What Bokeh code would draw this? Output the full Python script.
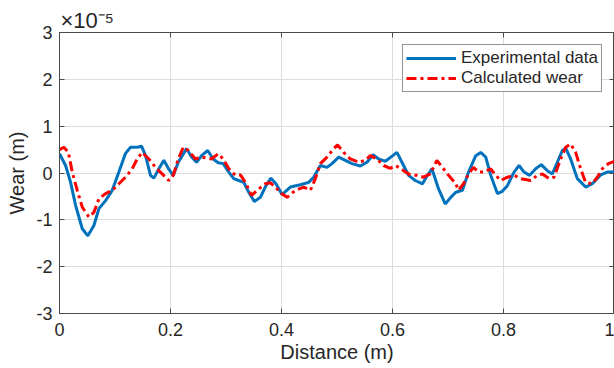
from bokeh.plotting import figure
from bokeh.models import Range1d, LinearAxis, FixedTicker, Legend, LegendItem
from bokeh.embed import file_html
from bokeh.resources import INLINE

# Values in units of 1e-5 m
exp_x = [0.0, 0.011, 0.02, 0.029, 0.041, 0.051, 0.062, 0.071, 0.083, 0.095, 0.107, 0.119, 0.128, 0.14, 0.148,
         0.155, 0.164, 0.17, 0.179, 0.188, 0.196, 0.205, 0.214, 0.229, 0.238, 0.247, 0.256, 0.267, 0.277, 0.286,
         0.295, 0.305, 0.314, 0.323, 0.332, 0.341, 0.351, 0.362, 0.372, 0.381, 0.39, 0.401, 0.416, 0.434, 0.449,
         0.458, 0.47, 0.482, 0.491, 0.503, 0.515, 0.527, 0.542, 0.554, 0.565, 0.575, 0.587, 0.597, 0.608, 0.617,
         0.629, 0.641, 0.654, 0.663, 0.671, 0.683, 0.695, 0.705, 0.714, 0.726, 0.737, 0.75, 0.759, 0.768, 0.777,
         0.789, 0.797, 0.807, 0.819, 0.828, 0.837, 0.847, 0.858, 0.868, 0.879, 0.888, 0.897, 0.906, 0.912, 0.921,
         0.933, 0.948, 0.96, 0.975, 0.987, 1.0]
exp_y = [0.41, 0.16, -0.2, -0.69, -1.19, -1.34, -1.12, -0.76, -0.59, -0.37, 0.02, 0.42, 0.55, 0.55, 0.57,
         0.37, -0.05, -0.11, 0.09, 0.27, 0.1, -0.05, 0.23, 0.52, 0.34, 0.23, 0.37, 0.48, 0.30, 0.22,
         0.20, 0.02, -0.12, -0.16, -0.2, -0.41, -0.61, -0.52, -0.27, -0.11, -0.23, -0.46, -0.30, -0.25, -0.20,
         -0.09, 0.16, 0.12, 0.2, 0.34, 0.27, 0.2, 0.15, 0.23, 0.39, 0.30, 0.25, 0.34, 0.44, 0.23,
         -0.05, -0.16, -0.23, -0.05, 0.09, -0.34, -0.66, -0.52, -0.41, -0.37, 0.02, 0.37, 0.44, 0.34, -0.05,
         -0.44, -0.40, -0.27, 0.02, 0.16, 0.02, -0.05, 0.09, 0.18, 0.05, -0.02, 0.23, 0.48, 0.53, 0.30,
         -0.12, -0.30, -0.23, -0.04, 0.02, 0.02]

calc_x = [0.0, 0.008, 0.016, 0.023, 0.032, 0.041, 0.053, 0.062, 0.071, 0.083, 0.095, 0.107, 0.119, 0.131, 0.14,
          0.149, 0.161, 0.173, 0.185, 0.197, 0.205, 0.214, 0.223, 0.232, 0.245, 0.256, 0.274, 0.286, 0.295, 0.305,
          0.317, 0.326, 0.335, 0.346, 0.359, 0.371, 0.38, 0.389, 0.4, 0.41, 0.425, 0.44, 0.452, 0.461, 0.47,
          0.482, 0.494, 0.501, 0.512, 0.524, 0.539, 0.551, 0.56, 0.572, 0.584, 0.596, 0.606, 0.62, 0.632, 0.644,
          0.656, 0.668, 0.68, 0.69, 0.701, 0.714, 0.719, 0.728, 0.737, 0.746, 0.755, 0.764, 0.777, 0.786, 0.795,
          0.807, 0.819, 0.831, 0.849, 0.861, 0.87, 0.882, 0.891, 0.903, 0.912, 0.921, 0.93, 0.939, 0.948, 0.96,
          0.969, 0.978, 0.989, 1.0]
calc_y = [0.5, 0.55, 0.44, 0.02, -0.37, -0.73, -0.94, -0.84, -0.55, -0.44, -0.37, -0.23, -0.09, 0.09, 0.30,
          0.44, 0.30, 0.12, -0.02, -0.16, -0.05, 0.30, 0.55, 0.48, 0.30, 0.34, 0.30, 0.41, 0.30, 0.09,
          -0.05, -0.04, -0.2, -0.48, -0.34, -0.23, -0.21, -0.30, -0.44, -0.52, -0.37, -0.30, -0.37, -0.12, 0.2,
          0.34, 0.52, 0.6, 0.44, 0.30, 0.23, 0.27, 0.37, 0.30, 0.16, 0.10, 0.16, 0.05, -0.04, -0.05,
          -0.09, -0.02, 0.27, 0.12, -0.05, -0.23, -0.37, -0.23, -0.02, 0.12, 0.02, 0.02, 0.09, -0.05, -0.16,
          -0.09, -0.05, -0.12, -0.16, -0.05, -0.02, -0.12, -0.09, 0.30, 0.55, 0.62, 0.44, 0.09, -0.2, -0.23,
          -0.09, 0.09, 0.2, 0.25]

x_ticks = [0, 0.2, 0.4, 0.6, 0.8, 1]
x_tick_labels = ["0", "0.2", "0.4", "0.6", "0.8", "1"]
y_ticks = [-3, -2, -1, 0, 1, 2, 3]
y_tick_labels = ["-3", "-2", "-1", "0", "1", "2", "3"]

FONT = "Liberation Sans"
AX = "#4a4a4a"
TXT = "#262626"

p = figure(width=614, height=368, output_backend="svg", toolbar_location=None,
           x_range=Range1d(0, 1), y_range=Range1d(-3, 3),
           min_border_left=59, min_border_right=0, min_border_top=32, min_border_bottom=55)
p.outline_line_color = AX
p.background_fill_color = "white"
p.border_fill_color = "white"

p.title.text = "×10⁻⁵"
p.title.align = "left"
p.title.offset = 1
p.title.standoff = 0
p.title.text_font = FONT
p.title.text_font_size = "22px"
p.title.text_font_style = "normal"
p.title.text_color = TXT

for ax, ticks, labels in [(p.xaxis[0], x_ticks, x_tick_labels), (p.yaxis[0], y_ticks, y_tick_labels)]:
    ax.ticker = FixedTicker(ticks=ticks)
    ax.major_label_overrides = {t: l for t, l in zip(ticks, labels)}
    ax.minor_tick_line_color = None
    ax.major_tick_in = 5
    ax.major_tick_out = 0
    ax.axis_line_color = AX
    ax.major_tick_line_color = AX
    ax.major_label_text_font = FONT
    ax.major_label_text_font_size = "18px"
    ax.major_label_text_color = TXT
    ax.major_label_standoff = 7
    ax.axis_label_text_font = FONT
    ax.axis_label_text_font_size = "20px"
    ax.axis_label_text_font_style = "normal"
    ax.axis_label_text_color = TXT

p.xaxis.axis_label = "Distance (m)"
p.yaxis.axis_label = "Wear (m)"
p.xaxis.major_label_standoff = 9
p.xaxis.axis_label_standoff = 2
p.yaxis.axis_label_standoff = 5

# mirrored axes (ticks only) on top and right
top = LinearAxis(ticker=FixedTicker(ticks=x_ticks), major_label_text_font_size="0px",
                 major_label_text_color=None,
                 major_tick_in=5, major_tick_out=0, minor_tick_line_color=None,
                 axis_line_color=AX, major_tick_line_color=AX, major_label_standoff=0)
right = LinearAxis(ticker=FixedTicker(ticks=y_ticks), major_label_text_font_size="0px",
                   major_label_text_color=None,
                   major_tick_in=5, major_tick_out=0, minor_tick_line_color=None,
                   axis_line_color=AX, major_tick_line_color=AX, major_label_standoff=0)
p.add_layout(top, "above")
p.add_layout(right, "right")

p.xgrid.ticker = FixedTicker(ticks=x_ticks)
p.ygrid.ticker = FixedTicker(ticks=y_ticks)
p.grid.grid_line_color = "#dcdcdc"
p.grid.grid_line_width = 1

r1 = p.line(exp_x, exp_y, line_color="#0072BD", line_width=3)
r2 = p.line(calc_x, calc_y, line_color="#FF0000", line_width=3, line_dash="10 4 3 4")

legend = Legend(items=[LegendItem(label="Experimental data", renderers=[r1]),
                       LegendItem(label="Calculated wear", renderers=[r2])],
                location="top_right", margin=12, padding=3, spacing=0,
                glyph_width=50, glyph_height=20, label_standoff=5,
                label_text_font=FONT, label_text_font_size="17px", label_text_color=TXT,
                border_line_color=TXT, border_line_width=1, background_fill_color="white")
p.add_layout(legend)

open("out.html", "w").write(file_html(p, INLINE))
